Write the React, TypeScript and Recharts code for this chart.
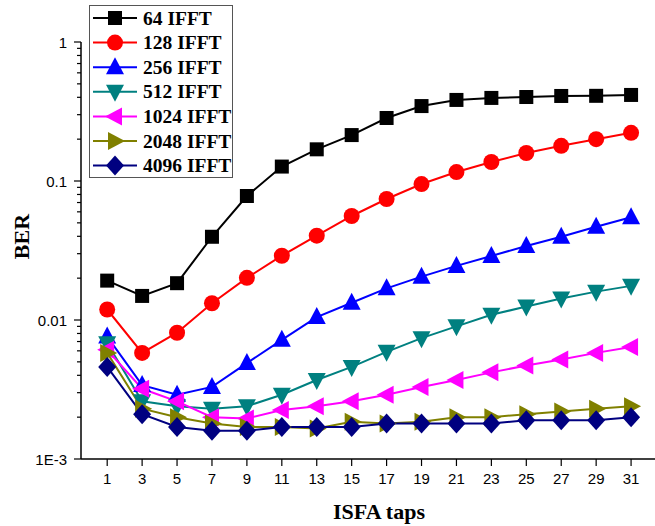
import React from 'react';
import { LineChart, Line, XAxis, YAxis, Legend } from 'recharts';

// ISFA taps on the x axis
const taps = [1, 3, 5, 7, 9, 11, 13, 15, 17, 19, 21, 23, 25, 27, 29, 31];

// BER per IFFT size
const ber64 = [0.0192, 0.0149, 0.0184, 0.0397, 0.078, 0.127, 0.169, 0.214, 0.284, 0.346, 0.383, 0.396, 0.402, 0.409, 0.41, 0.416];
const ber128 = [0.0119, 0.0058, 0.0081, 0.0132, 0.0201, 0.029, 0.0404, 0.056, 0.0742, 0.0951, 0.116, 0.137, 0.159, 0.179, 0.2, 0.222];
const ber256 = [0.0076, 0.0034, 0.0029, 0.0033, 0.0049, 0.0072, 0.0105, 0.0133, 0.0169, 0.0205, 0.0245, 0.0289, 0.0341, 0.0397, 0.0469, 0.0548];
const ber512 = [0.0068, 0.0026, 0.0024, 0.0023, 0.0024, 0.0029, 0.0037, 0.0046, 0.0059, 0.0074, 0.009, 0.0109, 0.0125, 0.0143, 0.016, 0.0176];
const ber1024 = [0.0061, 0.0032, 0.0026, 0.002, 0.00196, 0.00225, 0.0024, 0.0026, 0.0029, 0.0033, 0.0037, 0.0042, 0.0047, 0.0052, 0.0058, 0.0064];
const ber2048 = [0.0058, 0.0023, 0.002, 0.0018, 0.0017, 0.0017, 0.00166, 0.00185, 0.0018, 0.00185, 0.002, 0.002, 0.0021, 0.0022, 0.0023, 0.0024];
const ber4096 = [0.0046, 0.0021, 0.0017, 0.0016, 0.0016, 0.0017, 0.0017, 0.0017, 0.0018, 0.0018, 0.0018, 0.0018, 0.0019, 0.0019, 0.0019, 0.002];

const seriesNames = ['64 IFFT', '128 IFFT', '256 IFFT', '512 IFFT', '1024 IFFT', '2048 IFFT', '4096 IFFT'];
const seriesValues = [ber64, ber128, ber256, ber512, ber1024, ber2048, ber4096];
const COLORS = ['#000000', '#ff0000', '#0000ff', '#008080', '#ff00ff', '#808000', '#000080'];
const SHAPES = ['square', 'circle', 'up', 'down', 'left', 'right', 'diamond'];

// y axis: decades are labelled, the rest are minor ticks
const yMajorTicks = [0.001, 0.01, 0.1, 1];
const yMajorLabels = ['1E-3', '0.01', '0.1', '1'];
const yTicks: number[] = [];
yMajorTicks.forEach((d, i) => {
    yTicks.push(d);
    if (i < yMajorTicks.length - 1) {
        for (let m = 2; m <= 9; m++) yTicks.push(+(d * m).toPrecision(3));
    }
});

const data = taps.map((t, i) => {
    const row: any = { tap: t };
    seriesNames.forEach((name, s) => { row[name] = seriesValues[s][i]; });
    return row;
});

const SANS = '"Liberation Sans", Arial, sans-serif';
const SERIF = '"Liberation Serif", "Times New Roman", serif';

function Marker({ shape, cx, cy, color }: { shape: string; cx: number; cy: number; color: string }) {
    switch (shape) {
        case 'square':
            return <rect x={cx - 7} y={cy - 7} width={14} height={14} fill={color} />;
        case 'circle':
            return <circle cx={cx} cy={cy} r={8} fill={color} />;
        case 'up':
            return <polygon points={`${cx},${cy - 10} ${cx + 9},${cy + 7} ${cx - 9},${cy + 7}`} fill={color} />;
        case 'down':
            return <polygon points={`${cx},${cy + 10} ${cx + 9},${cy - 7} ${cx - 9},${cy - 7}`} fill={color} />;
        case 'left':
            return <polygon points={`${cx - 10},${cy} ${cx + 7},${cy - 9} ${cx + 7},${cy + 9}`} fill={color} />;
        case 'right':
            return <polygon points={`${cx + 10},${cy} ${cx - 7},${cy - 9} ${cx - 7},${cy + 9}`} fill={color} />;
        default:
            return <polygon points={`${cx},${cy - 10} ${cx + 9},${cy} ${cx},${cy + 10} ${cx - 9},${cy}`} fill={color} />;
    }
}

const YTick = ({ x, y, payload }: any) => {
    const v = payload.value;
    const idx = yMajorTicks.findIndex(m => Math.abs(m - v) / m < 1e-6);
    const major = idx >= 0;
    return (
        <g>
            <line x1={x - (major ? 7 : 4)} x2={x} y1={y} y2={y} stroke="#000" strokeWidth={1.2} />
            {major && (
                <text x={x - 14} y={y} textAnchor="end" dominantBaseline="central" fontSize={15} fontFamily={SANS} fill="#000">
                    {yMajorLabels[idx]}
                </text>
            )}
        </g>
    );
};

const LegendBox = () => (
    <svg width={145} height={174} style={{ display: 'block' }}>
        <rect x={0.5} y={0.5} width={143} height={172} fill="#fff" stroke="#555" strokeWidth={1} />
        {seriesNames.map((name, i) => {
            const cy = 13 + i * 24.6;
            return (
                <g key={name}>
                    <line x1={4} x2={48} y1={cy} y2={cy} stroke={COLORS[i]} strokeWidth={2} />
                    <Marker shape={SHAPES[i]} cx={26} cy={cy} color={COLORS[i]} />
                    <text x={54} y={cy} dominantBaseline="central" fontSize={19.5} fontWeight="bold" fontFamily={SERIF} fill="#000">
                        {name}
                    </text>
                </g>
            );
        })}
    </svg>
);

export default function App() {
    return (
        <div style={{ position: 'absolute', left: 0, top: 0, width: 655, height: 526, background: '#fff' }}>
            <LineChart width={655} height={526} data={data} margin={{ top: 42, right: 0, bottom: 0, left: 0 }}>
                <XAxis
                    dataKey="tap"
                    type="number"
                    domain={[-0.5, 32.37]}
                    allowDataOverflow
                    ticks={taps}
                    interval={0}
                    height={67}
                    tickSize={7}
                    tickMargin={7}
                    axisLine={{ stroke: '#000', strokeWidth: 1.5 }}
                    tickLine={{ stroke: '#000', strokeWidth: 1.2 }}
                    tick={{ fill: '#000', fontSize: 15, fontFamily: SANS }}
                    label={{
                        content: ({ viewBox }: any) => (
                            <text x={viewBox.x + viewBox.width / 2 + 11} y={viewBox.y + 60} textAnchor="middle" fontSize={22} fontWeight="bold" fontFamily={SERIF} fill="#000">
                                ISFA taps
                            </text>
                        ),
                    }}
                />
                <YAxis
                    scale="log"
                    domain={[0.001, 1]}
                    allowDataOverflow
                    ticks={yTicks}
                    interval={0}
                    width={81}
                    tickSize={0}
                    tickMargin={0}
                    tickLine={false}
                    tick={<YTick />}
                    axisLine={{ stroke: '#000', strokeWidth: 1.5 }}
                    label={{
                        content: ({ viewBox }: any) => {
                            const cx = 29;
                            const cy = viewBox.y + viewBox.height / 2 - 14;
                            return (
                                <text x={cx} y={cy} transform={`rotate(-90 ${cx} ${cy})`} textAnchor="middle" fontSize={22} fontWeight="bold" fontFamily={SERIF} fill="#000">
                                    BER
                                </text>
                            );
                        },
                    }}
                />
                <Legend
                    layout="horizontal"
                    verticalAlign="middle"
                    align="center"
                    content={<LegendBox />}
                    wrapperStyle={{ position: 'absolute', left: 89, top: 5, width: 145, height: 174 }}
                />
                {seriesNames.map((name, i) => (
                    <Line
                        key={name}
                        dataKey={name}
                        type="linear"
                        stroke={COLORS[i]}
                        strokeWidth={2}
                        isAnimationActive={false}
                        dot={(p: any) => <Marker key={`${name}-${p.index}`} shape={SHAPES[i]} cx={p.cx} cy={p.cy} color={COLORS[i]} />}
                        activeDot={false}
                    />
                ))}
            </LineChart>
        </div>
    );
}
